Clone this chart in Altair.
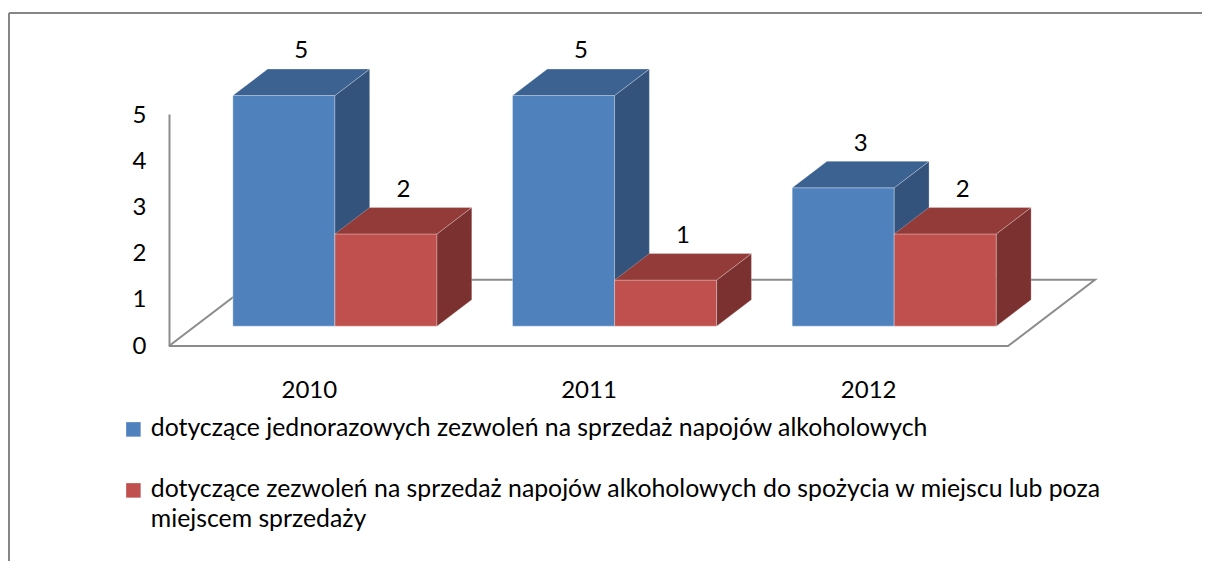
import json
import textwrap
import altair as alt
import pandas as pd

# ---- data ----
years = ["2010", "2011", "2012"]
series = [
    "dotyczące jednorazowych zezwoleń na sprzedaż napojów alkoholowych",
    "dotyczące zezwoleń na sprzedaż napojów alkoholowych do spożycia w miejscu lub poza miejscem sprzedaży",
]
values_a = [5, 5, 3]
values_b = [2, 1, 2]
y_ticks = [0, 1, 2, 3, 4, 5]

# ---- styling / 3D geometry constants ----
FRONT = ["#4F81BD", "#C0504D"]
TOP = ["#3C6292", "#923B39"]
SIDE = ["#33537C", "#7B3130"]
GRID = "#8C8C8C"
FONT = "Lato"
FS = 24
LFS = 24.8

W = 0.365      # bar width (category units)
DX = 0.311     # x shift over full floor depth (category units)
DY = 1.434     # y shift over full floor depth (value units)
Z0, Z1 = 0.30, 0.70  # bar front / back depth


def px(x, z):
    return x + DX * z


def py(v, z):
    return v + DY * z


front_rows, top_rows, side_rows, label_rows = [], [], [], []
for s_idx, vals in enumerate([values_a, values_b]):
    for i, (yr, v) in enumerate(zip(years, vals)):
        left = i + (s_idx - 1) * W
        right = left + W
        fid = f"{s_idx}-{i}"
        front_rows.append(dict(series=series[s_idx], s=s_idx, year=yr,
                               x=px(left, Z0), x2=px(right, Z0),
                               y=py(0, Z0), y2=py(v, Z0)))
        for z in (Z0, Z1):
            top_rows.append(dict(id=fid, s=s_idx, y=py(v, z),
                                 x=px(left, z), x2=px(right, z)))
            side_rows.append(dict(id=fid, s=s_idx, x=px(right, z),
                                  y=py(0, z), y2=py(v, z)))
        label_rows.append(dict(s=s_idx, value=v,
                               x=px((left + right) / 2, (Z0 + Z1) / 2),
                               y=py(v, (Z0 + Z1) / 2)))

front_df = pd.DataFrame(front_rows)
top_df = pd.DataFrame(top_rows)
side_df = pd.DataFrame(side_rows)
label_df = pd.DataFrame(label_rows)

x_lo, x_hi = -0.5, len(years) - 0.5
floor_df = pd.DataFrame([
    dict(o=0, x=px(x_lo, 0), y=py(0, 0)),
    dict(o=1, x=px(x_hi, 0), y=py(0, 0)),
    dict(o=2, x=px(x_hi, 1), y=py(0, 1)),
    dict(o=3, x=px(x_lo, 1), y=py(0, 1)),
    dict(o=4, x=px(x_lo, 0), y=py(0, 0)),
])

xs = alt.Scale(domain=[x_lo, x_hi], nice=False, zero=False)
ys = alt.Scale(domain=[0, 5.03], nice=False, zero=False)

year_expr = json.dumps(years) + "[round(datum.value)]"
x_axis = alt.Axis(values=list(range(len(years))), labelExpr=year_expr, title=None,
                  domain=False, ticks=False, grid=False, labelPadding=32,
                  labelFont=FONT, labelFontSize=FS, labelColor="#000000")
y_axis = alt.Axis(values=y_ticks, title=None, domain=True, domainColor=GRID,
                  domainWidth=2, ticks=False, grid=False, labelPadding=23,
                  labelFont=FONT, labelFontSize=FS, labelColor="#000000")

# legend label wrapping
wrapped = [textwrap.wrap(s, 82) for s in series]
expr = "datum.label"
for s, lines in zip(series, wrapped):
    if len(lines) > 1:
        expr = f"datum.label == {json.dumps(s)} ? {json.dumps(lines)} : " + expr

floor = alt.Chart(floor_df).mark_line(color=GRID, strokeWidth=2, clip=False).encode(
    x=alt.X("x:Q", scale=xs, axis=x_axis),
    y=alt.Y("y:Q", scale=ys, axis=y_axis),
    order="o:O",
)

layers = [floor]
for s_idx in range(2):
    fr = alt.Chart(front_df).transform_filter(alt.datum.s == s_idx).mark_rect(
        stroke="#FFFFFF", strokeOpacity=0.35, strokeWidth=1, clip=False
    ).encode(
        x=alt.X("x:Q", scale=xs), x2="x2:Q",
        y=alt.Y("y:Q", scale=ys), y2="y2:Q",
        color=alt.Color("series:N", scale=alt.Scale(domain=series, range=FRONT),
                        legend=alt.Legend(
                            title=None, orient="none", legendX=-48, legendY=303,
                            direction="vertical", symbolType="square", symbolSize=210,
                            symbolStrokeWidth=0, labelFont=FONT, labelFontSize=LFS,
                            labelColor="#000000", labelLimit=1100, rowPadding=35,
                            labelExpr=expr, labelOffset=5, labelBaseline="middle",
                        )),
    )
    tp = alt.Chart(top_df).transform_filter(alt.datum.s == s_idx).mark_area(
        orient="horizontal", color=TOP[s_idx], clip=False,
        stroke="#FFFFFF", strokeOpacity=0.25, strokeWidth=1,
    ).encode(
        y=alt.Y("y:Q", scale=ys), x=alt.X("x:Q", scale=xs), x2="x2:Q",
        detail="id:N",
    )
    sd = alt.Chart(side_df).transform_filter(alt.datum.s == s_idx).mark_area(
        orient="vertical", color=SIDE[s_idx], clip=False,
        stroke="#FFFFFF", strokeOpacity=0.25, strokeWidth=1,
    ).encode(
        x=alt.X("x:Q", scale=xs), y=alt.Y("y:Q", scale=ys), y2="y2:Q",
        detail="id:N",
    )
    layers += [fr, sd, tp]

labels = alt.Chart(label_df).mark_text(
    font=FONT, fontSize=FS, color="#000000", dy=-31, baseline="middle", clip=False
).encode(
    x=alt.X("x:Q", scale=xs), y=alt.Y("y:Q", scale=ys), text="value:Q"
)
layers.append(labels)

dummy = pd.DataFrame({"a": [0]})
frame_top = alt.Chart(dummy).mark_rule(color="#868686", strokeWidth=2).encode(
    x=alt.value(-160), x2=alt.value(1045), y=alt.value(-101))
frame_left = alt.Chart(dummy).mark_rule(color="#868686", strokeWidth=2).encode(
    x=alt.value(-160), y=alt.value(-101), y2=alt.value(460))
layers += [frame_top, frame_left]

chart = alt.layer(*layers).properties(
    width=839, height=232,
    padding={"left": 161, "top": 106, "right": 194, "bottom": 215},
    autosize=alt.AutoSizeParams(type="none"),
    background="#FFFFFF",
).configure(
    view={"strokeWidth": 0},
    style={"guide-label": {"lineHeight": 30}},
)

chart.save("out.html", embed_options={"renderer": "svg", "actions": False})
